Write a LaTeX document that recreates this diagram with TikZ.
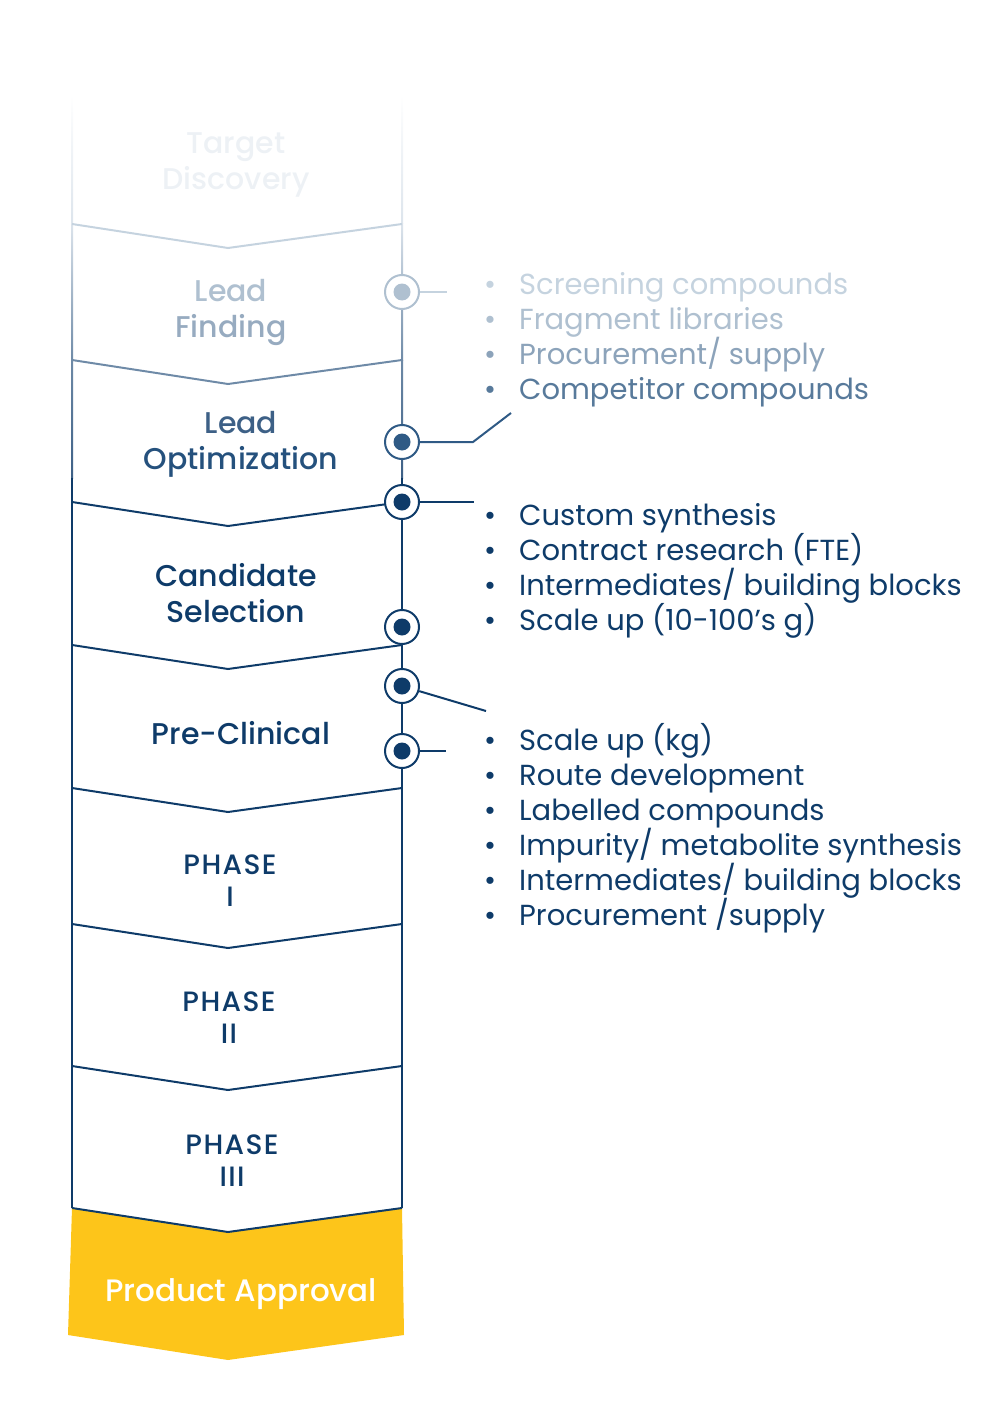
\documentclass[tikz,border=0pt]{standalone}
\usepackage{fontspec}
\setmainfont{Poppins}
\newfontfamily\medfont{Poppins}[UprightFont={* Medium}]
\newfontfamily\phasefont{Poppins}[UprightFont={* Medium},LetterSpace=5]
\usepackage{xcolor}
\usetikzlibrary{calc}
\definecolor{navy}{HTML}{0E3B69}
\definecolor{gold}{HTML}{FDC51A}
\definecolor{mist}{HTML}{EDF1F5}
\definecolor{paleA}{HTML}{DCE4EC}
\definecolor{paleB}{HTML}{C5D3DF}
\definecolor{paleC}{HTML}{AFC0D0}
\definecolor{paleD}{HTML}{97ABC0}
\definecolor{midA}{HTML}{8CA3BA}
\definecolor{midB}{HTML}{6E8AA7}
\definecolor{midC}{HTML}{587A9B}
\definecolor{deepA}{HTML}{3D6086}
\definecolor{deepB}{HTML}{2F5A85}

\begin{document}
\begin{tikzpicture}[x=1pt,y=-1pt,
  stage/.style={align=center,font=\medfont\fontsize{30}{36}\selectfont,text=navy},
  phase/.style={align=center,font=\phasefont\fontsize{28}{32}\selectfont,text=navy},
  item/.style={anchor=base west,inner sep=0pt,font=\fontsize{29}{35}\selectfont,text=navy},
  dot/.style={circle,draw=#1,line width=2pt,fill=white,minimum size=34pt,inner sep=0pt,
    path picture={\fill[#1] (path picture bounding box.center) circle (8.5pt);}},
  link/.style={line width=2pt}]
\useasboundingbox (0,0) rectangle (1001,1423);

% side lines, fading in from the top
\foreach \x in {72,402} {
  \shade[top color=white,bottom color=paleA] (\x-1,95) rectangle (\x+1,224);
  \shade[top color=paleA,bottom color=midB] (\x-1,224) rectangle (\x+1,360);
  \shade[top color=midB,bottom color=deepA] (\x-1,360) rectangle (\x+1,478);
  \fill[navy] (\x-1,478) rectangle (\x+1,1208);
}

% product approval arrow
\fill[gold] (72,1208) -- (228,1232) -- (402,1208) -- (404,1335) -- (228,1360) -- (68,1335) -- cycle;

% chevrons between stages
\draw[link,paleB] (72,224) -- (228,248) -- (402,224);
\draw[link,midB] (72,360) -- (228,384) -- (402,360);
\foreach \y in {502,645,788,924,1066,1208}
  \draw[link,navy] (72,\y) -- (228,\y+24) -- (402,\y);

% stages
\node[stage,text=mist] (target) at (236,165) {Target\\Discovery};
\node[stage] (lead) at (231,312) {\textcolor{paleC}{Lead}\\\textcolor{paleD}{Finding}};
\node[stage] (opt) at (241,444) {\textcolor{deepA}{Lead}\\\textcolor{deepB!70!navy}{Optimization}};
\node[stage] (cand) at (236,593) {Candidate\\Selection};
\node[stage] (pre) at (241,733) {Pre-Clinical};
\node[phase] (ph1) at (230,881) {PHASE\\I};
\node[phase] (ph2) at (229,1018) {PHASE\\II};
\node[phase] (ph3) at (232,1161) {PHASE\\III};
\node[stage,font=\medfont\fontsize{31}{36}\selectfont,text=white] (approval) at (241,1294) {Product Approval};

% markers on the right line
\node[dot=paleC] (c1) at (402,292) {};
\node[dot=deepB] (c2) at (402,442) {};
\node[dot=navy] (c3) at (402,502) {};
\node[dot=navy] (c4) at (402,627) {};
\node[dot=navy] (c5) at (402,686) {};
\node[dot=navy] (c6) at (402,751) {};

\coordinate (e1) at (447,292);
\coordinate (k2) at (473,442);
\coordinate (e2) at (511,413);
\coordinate (e3) at (474,502);
\coordinate (e5) at (486,711);
\coordinate (e6) at (446,751);
\draw[link,paleB] (c1) -- (e1);
\draw[link,deepB] (c2) -- (k2) -- (e2);
\draw[link,navy] (c3) -- (e3);
\draw[link,navy] (c5) -- (e5);
\draw[link,navy] (c6) -- (e6);

% lists
\foreach \t/\c [count=\i] in {{Screening compounds}/paleB,{Fragment libraries}/paleC,
    {Procurement/ supply}/midA,{Competitor compounds}/midC}
  \node[item,text=\c] (ga\i) at (484,{294+35*(\i-1)}) {\makebox[35pt][l]{•}\t};
\foreach \t [count=\i] in {Custom synthesis,Contract research (FTE),
    Intermediates/ building blocks,Scale up (10-100’s g)}
  \node[item] (gb\i) at (484,{525+35*(\i-1)}) {\makebox[35pt][l]{•}\t};
\foreach \t [count=\i] in {Scale up (kg),Route development,Labelled compounds,
    Impurity/ metabolite synthesis,Intermediates/ building blocks,Procurement /supply}
  \node[item] (gc\i) at (484,{750+35*(\i-1)}) {\makebox[35pt][l]{•}\t};
\end{tikzpicture}
\end{document}
